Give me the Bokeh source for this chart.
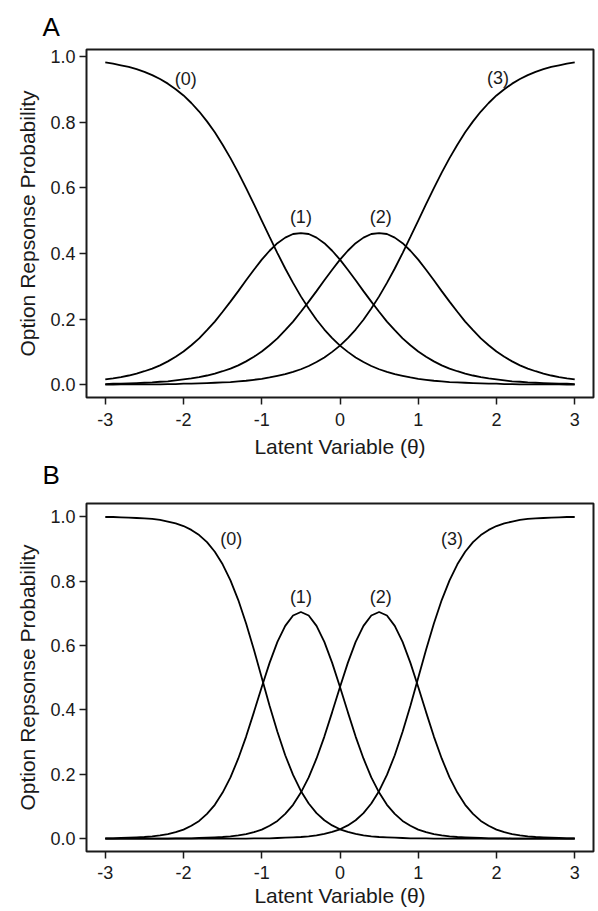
from bokeh.plotting import figure
from bokeh.layouts import column
from bokeh.models import Range1d, FixedTicker, Title
from bokeh.core.properties import value
from bokeh.embed import file_html
from bokeh.resources import INLINE

# ---------------- data ----------------
theta = [-3.0, -2.9, -2.8, -2.7, -2.6, -2.5, -2.4, -2.3, -2.2, -2.1,
         -2.0, -1.9, -1.8, -1.7, -1.6, -1.5, -1.4, -1.3, -1.2, -1.1,
         -1.0, -0.9, -0.8, -0.7, -0.6, -0.5, -0.4, -0.3, -0.2, -0.1,
         0.0, 0.1, 0.2, 0.3, 0.4, 0.5, 0.6, 0.7, 0.8, 0.9,
         1.0, 1.1, 1.2, 1.3, 1.4, 1.5, 1.6, 1.7, 1.8, 1.9,
         2.0, 2.1, 2.2, 2.3, 2.4, 2.5, 2.6, 2.7, 2.8, 2.9, 3.0]

# Panel A
a_cat0 = [0.982, 0.978, 0.973, 0.968, 0.961, 0.953, 0.943, 0.931, 0.917, 0.900, 0.881,
          0.858, 0.832, 0.802, 0.769, 0.731, 0.690, 0.646, 0.599, 0.550, 0.500,
          0.450, 0.401, 0.354, 0.310, 0.269, 0.232, 0.198, 0.168, 0.142, 0.119,
          0.100, 0.083, 0.069, 0.057, 0.047, 0.039, 0.032, 0.027, 0.022, 0.018,
          0.015, 0.012, 0.010, 0.008, 0.007, 0.006, 0.005, 0.004, 0.003, 0.003,
          0.002, 0.002, 0.001, 0.001, 0.001, 0.001, 0.001, 0.001, 0.000, 0.000]
a_cat1 = [0.016, 0.019, 0.023, 0.028, 0.034, 0.041, 0.049, 0.059, 0.071, 0.085, 0.101,
          0.120, 0.141, 0.166, 0.192, 0.222, 0.253, 0.285, 0.318, 0.350, 0.381,
          0.408, 0.431, 0.448, 0.459, 0.462, 0.459, 0.448, 0.431, 0.408, 0.381,
          0.350, 0.318, 0.285, 0.253, 0.222, 0.192, 0.166, 0.141, 0.120, 0.101,
          0.085, 0.071, 0.059, 0.049, 0.041, 0.034, 0.028, 0.023, 0.019, 0.016,
          0.013, 0.010, 0.009, 0.007, 0.006, 0.005, 0.004, 0.003, 0.003, 0.002]
a_cat2 = [0.002, 0.003, 0.003, 0.004, 0.005, 0.006, 0.007, 0.009, 0.010, 0.013,
          0.016, 0.019, 0.023, 0.028, 0.034, 0.041, 0.049, 0.059, 0.071, 0.085,
          0.101, 0.120, 0.141, 0.166, 0.192, 0.222, 0.253, 0.285, 0.318, 0.350,
          0.381, 0.408, 0.431, 0.448, 0.459, 0.462, 0.459, 0.448, 0.431, 0.408,
          0.381, 0.350, 0.318, 0.285, 0.253, 0.222, 0.192, 0.166, 0.141, 0.120,
          0.101, 0.085, 0.071, 0.059, 0.049, 0.041, 0.034, 0.028, 0.023, 0.019, 0.016]
a_cat3 = [0.000, 0.000, 0.001, 0.001, 0.001, 0.001, 0.001, 0.001, 0.002, 0.002,
          0.003, 0.003, 0.004, 0.005, 0.006, 0.007, 0.008, 0.010, 0.012, 0.015,
          0.018, 0.022, 0.027, 0.032, 0.039, 0.047, 0.057, 0.069, 0.083, 0.100,
          0.119, 0.142, 0.168, 0.198, 0.232, 0.269, 0.310, 0.354, 0.401, 0.450,
          0.500, 0.550, 0.599, 0.646, 0.690, 0.731, 0.769, 0.802, 0.832, 0.858,
          0.881, 0.900, 0.917, 0.931, 0.943, 0.953, 0.961, 0.968, 0.973, 0.978, 0.982]

# Panel B
b_cat0 = [0.999, 0.999, 0.998, 0.997, 0.996, 0.995, 0.993, 0.990, 0.985, 0.979, 0.971,
          0.959, 0.943, 0.921, 0.891, 0.852, 0.802, 0.741, 0.668, 0.587, 0.500,
          0.413, 0.332, 0.259, 0.198, 0.148, 0.109, 0.079, 0.057, 0.041, 0.029,
          0.021, 0.015, 0.010, 0.007, 0.005, 0.004, 0.003, 0.002, 0.001, 0.001,
          0.001, 0.000, 0.000, 0.000, 0.000, 0.000, 0.000, 0.000, 0.000, 0.000,
          0.000, 0.000, 0.000, 0.000, 0.000, 0.000, 0.000, 0.000, 0.000, 0.000]
b_cat1 = [0.001, 0.001, 0.002, 0.003, 0.004, 0.005, 0.007, 0.010, 0.014, 0.020, 0.028,
          0.040, 0.055, 0.077, 0.105, 0.143, 0.190, 0.249, 0.317, 0.393, 0.471,
          0.546, 0.611, 0.661, 0.693, 0.704, 0.693, 0.661, 0.611, 0.546, 0.471,
          0.393, 0.317, 0.249, 0.190, 0.143, 0.105, 0.077, 0.055, 0.040, 0.028,
          0.020, 0.014, 0.010, 0.007, 0.005, 0.004, 0.003, 0.002, 0.001, 0.001,
          0.001, 0.000, 0.000, 0.000, 0.000, 0.000, 0.000, 0.000, 0.000, 0.000]
b_cat2 = [0.000, 0.000, 0.000, 0.000, 0.000, 0.000, 0.000, 0.000, 0.000, 0.001,
          0.001, 0.001, 0.002, 0.003, 0.004, 0.005, 0.007, 0.010, 0.014, 0.020,
          0.028, 0.040, 0.055, 0.077, 0.105, 0.143, 0.190, 0.249, 0.317, 0.393,
          0.471, 0.546, 0.611, 0.661, 0.693, 0.704, 0.693, 0.661, 0.611, 0.546,
          0.471, 0.393, 0.317, 0.249, 0.190, 0.143, 0.105, 0.077, 0.055, 0.040,
          0.028, 0.020, 0.014, 0.010, 0.007, 0.005, 0.004, 0.003, 0.002, 0.001, 0.001]
b_cat3 = [0.000, 0.000, 0.000, 0.000, 0.000, 0.000, 0.000, 0.000, 0.000, 0.000,
          0.000, 0.000, 0.000, 0.000, 0.000, 0.000, 0.000, 0.000, 0.000, 0.001,
          0.001, 0.001, 0.002, 0.003, 0.004, 0.005, 0.007, 0.010, 0.015, 0.021,
          0.029, 0.041, 0.057, 0.079, 0.109, 0.148, 0.198, 0.259, 0.332, 0.413,
          0.500, 0.587, 0.668, 0.741, 0.802, 0.852, 0.891, 0.921, 0.943, 0.959,
          0.971, 0.979, 0.985, 0.990, 0.993, 0.995, 0.996, 0.997, 0.998, 0.999, 0.999]

curve_labels = ["(0)", "(1)", "(2)", "(3)"]
a_label_x = [-1.97, -0.50, 0.52, 2.02]
a_label_y = [0.930, 0.510, 0.510, 0.933]
b_label_x = [-1.39, -0.50, 0.52, 1.43]
b_label_y = [0.932, 0.750, 0.750, 0.932]

x_ticks = [-3, -2, -1, 0, 1, 2, 3]
x_tick_labels = ["-3", "-2", "-1", "0", "1", "2", "3"]
y_ticks = [0.0, 0.2, 0.4, 0.6, 0.8, 1.0]
y_tick_labels = ["0.0", "0.2", "0.4", "0.6", "0.8", "1.0"]

x_title = "Latent Variable (\u03b8)"
y_title = "Option Repsonse Probability"
panel_letters = ["A", "B"]

FONT = "Liberation Sans"
INK = "#1a1a1a"


def style_title(t, offset, standoff, valign):
    t.align = "left"
    t.offset = offset
    t.standoff = standoff
    t.vertical_align = valign
    t.text_font = FONT
    t.text_font_size = "26px"
    t.text_font_style = "normal"
    t.text_color = "black"


def make_panel(curves, lab_x, lab_y, y_rng, width, height,
               left, top, frame_w, frame_h, x_std, x_title_std):
    p = figure(width=width, height=height, output_backend="svg",
               toolbar_location=None,
               x_range=Range1d(-3.24, 3.24), y_range=Range1d(*y_rng),
               min_border_left=left, min_border_top=top,
               min_border_right=width - left - frame_w,
               min_border_bottom=height - top - frame_h,
               x_axis_label=x_title, y_axis_label=y_title)
    p.background_fill_color = "white"
    p.border_fill_color = "white"
    p.outline_line_color = INK
    p.outline_line_width = 2
    p.xgrid.grid_line_color = None
    p.ygrid.grid_line_color = None

    p.xaxis.ticker = FixedTicker(ticks=x_ticks)
    p.yaxis.ticker = FixedTicker(ticks=y_ticks)
    p.xaxis.major_label_overrides = {t: s for t, s in zip(x_ticks, x_tick_labels)}
    p.yaxis.major_label_overrides = {t: s for t, s in zip(y_ticks, y_tick_labels)}

    for ax in (p.xaxis[0], p.yaxis[0]):
        ax.axis_line_color = None
        ax.major_tick_line_color = INK
        ax.major_tick_line_width = 1.5
        ax.major_tick_out = 7
        ax.major_tick_in = 0
        ax.minor_tick_line_color = None
        ax.major_label_text_font = FONT
        ax.major_label_text_font_size = "18px"
        ax.major_label_text_color = INK
        ax.axis_label_text_font = FONT
        ax.axis_label_text_font_size = "21px"
        ax.axis_label_text_font_style = "normal"
        ax.axis_label_text_color = INK
    p.xaxis.major_label_standoff = x_std
    p.xaxis.axis_label_standoff = x_title_std
    p.yaxis.major_label_standoff = 4
    p.yaxis.axis_label_standoff = 8

    for ys in curves:
        p.line(theta, ys, line_color="black", line_width=1.8)

    p.text(x=lab_x, y=lab_y, text=curve_labels,
           text_font=value(FONT), text_font_size=value("18px"),
           text_color=INK, text_align="center", text_baseline="middle")
    return p


# panel A: occupies the top of the page, its lower border also carries the "B" letter
pA = make_panel([a_cat0, a_cat1, a_cat2, a_cat3], a_label_x, a_label_y,
                (-0.039, 1.021), 598, 493, 86, 49, 511, 348, 8, 6)
pA.title.text = panel_letters[0]
style_title(pA.title, -44, 16, "bottom")
tB = Title(text=panel_letters[1])
style_title(tB, -44, -2, "top")
pA.add_layout(tB, "below")

pB = make_panel([b_cat0, b_cat1, b_cat2, b_cat3], b_label_x, b_label_y,
                (-0.040, 1.041), 598, 418, 80, 10, 513, 348, 7, 2)

layout = column(pA, pB, spacing=0)
open("out.html", "w").write(file_html(layout, INLINE))
